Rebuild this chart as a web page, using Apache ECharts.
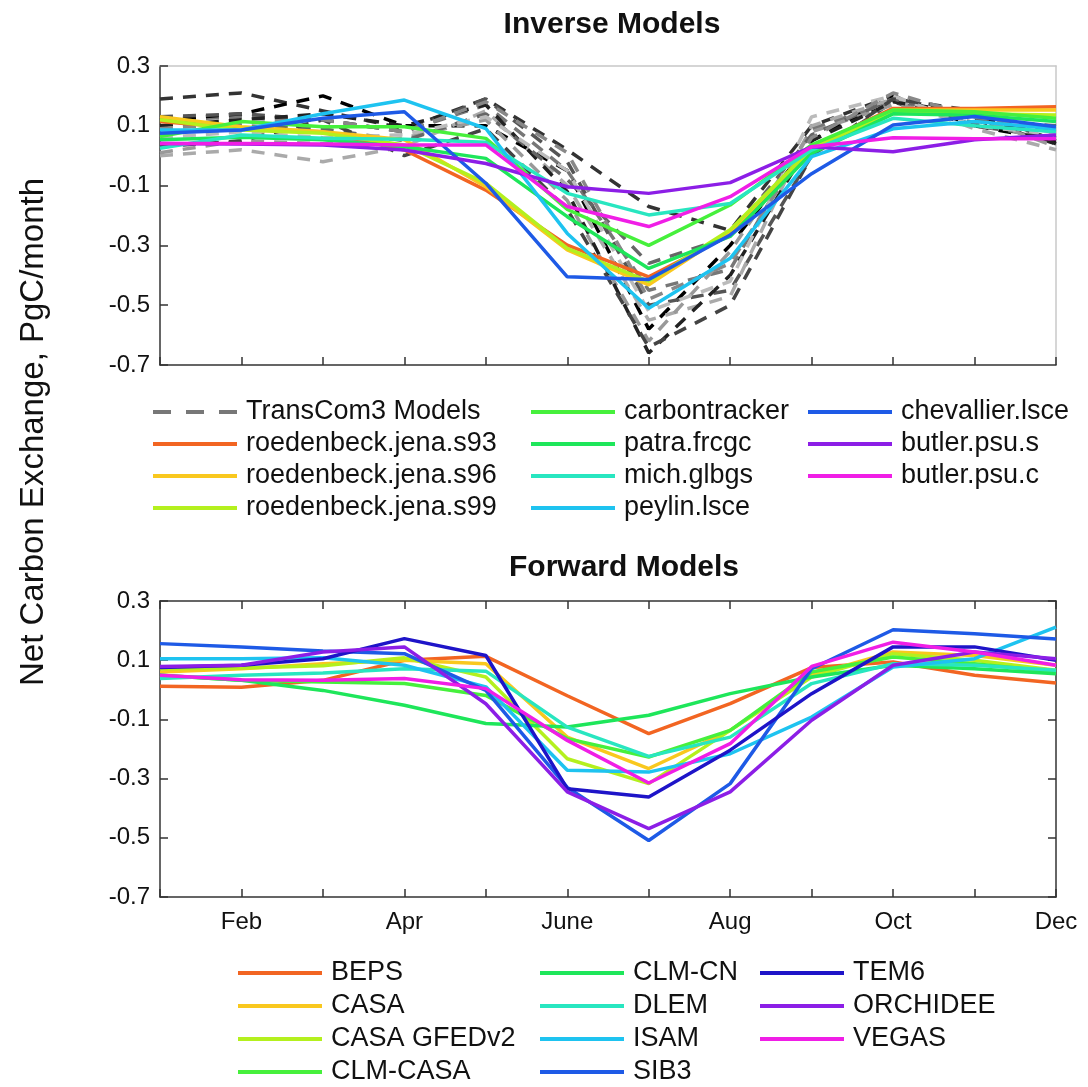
<!DOCTYPE html>
<html>
<head>
<meta charset="utf-8">
<script src="https://cdn.jsdelivr.net/npm/echarts@6/dist/echarts.min.js"></script>
<style>
  html, body { margin: 0; padding: 0; background: #fff; }
  #chart { width: 1088px; height: 1087px; }
</style>
</head>
<body>
<div id="chart"></div>
<script>
// months along x, only every other one is labelled
const months = ["Jan", "Feb", "Mar", "Apr", "May", "June", "July", "Aug", "Sep", "Oct", "Nov", "Dec"];
const yTicks = [-0.7, -0.5, -0.3, -0.1, 0.1, 0.3];

// Inverse models, TransCom3 ensemble (dashed, grey shades)
const transcom3 = [
  [0.12, 0.13, 0.12, 0.08, 0.17, -0.05, -0.45, -0.38, 0.09, 0.18, 0.11, 0.08],
  [0.19, 0.21, 0.15, 0.09, 0.19, 0.02, -0.17, -0.25, 0.10, 0.20, 0.12, 0.04],
  [0.12, 0.14, 0.20, 0.10, 0.10, -0.05, -0.58, -0.30, 0.05, 0.20, 0.10, 0.05],
  [0.13, 0.14, 0.12, 0.08, 0.19, -0.02, -0.50, -0.45, 0.00, 0.18, 0.10, 0.06],
  [0.00, 0.02, -0.02, 0.03, 0.15, -0.10, -0.55, -0.47, 0.10, 0.19, 0.09, 0.02],
  [0.01, 0.05, 0.04, 0.06, 0.12, -0.15, -0.62, -0.32, 0.08, 0.17, 0.13, 0.03],
  [0.10, 0.12, 0.14, 0.10, 0.17, -0.12, -0.66, -0.40, 0.05, 0.18, 0.14, 0.04],
  [0.12, 0.10, 0.09, 0.05, 0.14, -0.08, -0.36, -0.27, 0.07, 0.19, 0.12, 0.10],
  [0.06, 0.08, 0.06, 0.07, 0.13, -0.05, -0.52, -0.42, 0.13, 0.20, 0.10, 0.07],
  [0.03, 0.05, 0.12, 0.00, 0.09, -0.18, -0.64, -0.50, 0.00, 0.19, 0.15, 0.05],
  [0.09, 0.11, 0.12, 0.08, 0.18, 0.01, -0.48, -0.36, 0.06, 0.21, 0.13, 0.09],
];
const transcomColors = ["#777777", "#333333", "#000000", "#555555", "#aaaaaa", "#999999",
  "#222222", "#666666", "#bbbbbb", "#444444", "#888888"];

// Inverse models, single runs
const roedenbeckS93 = [0.114, 0.092, 0.08, 0.019, -0.115, -0.299, -0.405, -0.265, 0.03, 0.158, 0.158, 0.164];
const roedenbeckS96 = [0.13, 0.097, 0.08, 0.053, -0.104, -0.315, -0.432, -0.254, 0.019, 0.153, 0.153, 0.153];
const roedenbeckS99 = [0.12, 0.086, 0.075, 0.036, -0.092, -0.31, -0.42, -0.248, 0.025, 0.147, 0.14, 0.136];
const carbontracker = [0.064, 0.114, 0.097, 0.097, 0.058, -0.18, -0.30, -0.165, 0.036, 0.153, 0.147, 0.125];
const patraFrcgc = [0.053, 0.062, 0.053, 0.03, -0.009, -0.204, -0.377, -0.27, 0.008, 0.14, 0.135, 0.114];
const michGlbgs = [0.025, 0.069, 0.058, 0.055, 0.045, -0.126, -0.198, -0.16, 0.019, 0.125, 0.10, 0.08];
const peylinLsce = [0.086, 0.086, 0.14, 0.186, 0.091, -0.26, -0.51, -0.343, -0.003, 0.09, 0.114, 0.09];
const chevallierLsce = [0.075, 0.086, 0.125, 0.147, -0.092, -0.405, -0.414, -0.265, -0.06, 0.103, 0.131, 0.097];
const butlerPsuS = [0.041, 0.039, 0.036, 0.019, -0.026, -0.104, -0.126, -0.09, 0.03, 0.013, 0.053, 0.069];
const butlerPsuC = [0.041, 0.041, 0.039, 0.036, 0.036, -0.17, -0.237, -0.137, 0.03, 0.06, 0.057, 0.057];

// Forward models
const beps = [0.012, 0.009, 0.032, 0.10, 0.113, -0.02, -0.148, -0.047, 0.075, 0.094, 0.049, 0.023];
const casa = [0.06, 0.071, 0.088, 0.10, 0.088, -0.16, -0.266, -0.137, 0.049, 0.128, 0.116, 0.083];
const casaGfed = [0.071, 0.074, 0.081, 0.108, 0.043, -0.233, -0.317, -0.137, 0.043, 0.122, 0.10, 0.066];
const clmCasa = [0.049, 0.032, 0.026, 0.021, -0.019, -0.165, -0.227, -0.137, 0.06, 0.111, 0.088, 0.06];
const clmCn = [0.049, 0.032, -0.002, -0.052, -0.114, -0.126, -0.086, -0.013, 0.043, 0.083, 0.071, 0.054];
const dlem = [0.038, 0.049, 0.057, 0.071, 0.063, -0.126, -0.225, -0.16, 0.021, 0.088, 0.083, 0.066];
const isam = [0.105, 0.105, 0.108, 0.083, 0.01, -0.272, -0.278, -0.216, -0.092, 0.077, 0.105, 0.212];
const sib3 = [0.156, 0.145, 0.131, 0.122, -0.002, -0.33, -0.509, -0.317, 0.071, 0.203, 0.189, 0.172];
const tem6 = [0.075, 0.083, 0.105, 0.173, 0.116, -0.334, -0.362, -0.204, -0.013, 0.145, 0.145, 0.10];
const orchidee = [0.079, 0.083, 0.128, 0.145, -0.047, -0.345, -0.469, -0.345, -0.103, 0.083, 0.128, 0.105];
const vegas = [0.049, 0.034, 0.032, 0.038, 0.004, -0.171, -0.315, -0.182, 0.079, 0.161, 0.128, 0.083];

const inverseRuns = [
  ["roedenbeck.jena.s93", roedenbeckS93, "#f26522"],
  ["roedenbeck.jena.s96", roedenbeckS96, "#f9c81e"],
  ["roedenbeck.jena.s99", roedenbeckS99, "#b4f01e"],
  ["carbontracker", carbontracker, "#46f03c"],
  ["patra.frcgc", patraFrcgc, "#1ee65a"],
  ["mich.glbgs", michGlbgs, "#28e6c0"],
  ["peylin.lsce", peylinLsce, "#1ec3f0"],
  ["chevallier.lsce", chevallierLsce, "#1e5ae6"],
  ["butler.psu.s", butlerPsuS, "#8c1ee6"],
  ["butler.psu.c", butlerPsuC, "#f01ee6"],
];
const forwardRuns = [
  ["BEPS", beps, "#f26522"],
  ["CASA", casa, "#f9c81e"],
  ["CASA GFEDv2", casaGfed, "#b4f01e"],
  ["CLM-CASA", clmCasa, "#46f03c"],
  ["CLM-CN", clmCn, "#1ee65a"],
  ["DLEM", dlem, "#28e6c0"],
  ["ISAM", isam, "#1ec3f0"],
  ["SIB3", sib3, "#1e5ae6"],
  ["TEM6", tem6, "#1e14c8"],
  ["ORCHIDEE", orchidee, "#8c1ee6"],
  ["VEGAS", vegas, "#f01ee6"],
];

const FONT = "Liberation Sans, Arial, sans-serif";
const AXIS_DARK = "#333";
// three grey dashes for the ensemble entry
const DASH_ICON = "path://M0,0h18v4h-18z M33,0h18v4h-18z M66,0h18v4h-18z";

function xAxes(grid, withLabels, topColor, topTicks) {
  return [
    {
      gridIndex: grid, type: "category", data: months, boundaryGap: false, position: "bottom",
      axisLine: { onZero: false, lineStyle: { color: AXIS_DARK, width: 1.5 } },
      axisTick: { inside: true, length: 8, interval: 0, lineStyle: { color: AXIS_DARK, width: 1.5 } },
      axisLabel: {
        show: withLabels, interval: (i) => i % 2 === 1, margin: 13,
        fontFamily: FONT, fontSize: 24, color: "#111",
      },
      splitLine: { show: false },
    },
    {
      gridIndex: grid, type: "category", data: months, boundaryGap: false, position: "top",
      axisLine: { onZero: false, lineStyle: { color: topColor, width: 1.5 } },
      axisTick: { show: topTicks, inside: true, length: 8, interval: 0, lineStyle: { color: AXIS_DARK, width: 1.5 } },
      axisLabel: { show: false },
      splitLine: { show: false },
    },
  ];
}

function yAxes(grid, rightColor, rightTicks) {
  const base = { gridIndex: grid, type: "value", min: -0.7, max: 0.3, splitLine: { show: false } };
  return [
    Object.assign({}, base, {
      position: "left",
      axisLine: { show: true, onZero: false, lineStyle: { color: AXIS_DARK, width: 1.5 } },
      axisTick: { show: true, inside: true, length: 8, customValues: yTicks, lineStyle: { color: AXIS_DARK, width: 1.5 } },
      axisLabel: {
        customValues: yTicks, formatter: (v) => v.toFixed(1), margin: 10,
        fontFamily: FONT, fontSize: 24, color: "#111",
      },
    }),
    Object.assign({}, base, {
      position: "right",
      axisLine: { show: true, onZero: false, lineStyle: { color: rightColor, width: 1.5 } },
      axisTick: { show: rightTicks, inside: true, length: 8, customValues: yTicks, lineStyle: { color: AXIS_DARK, width: 1.5 } },
      axisLabel: { show: false },
    }),
  ];
}

const series = [];
transcom3.forEach((vals, i) => {
  series.push({
    name: "TransCom3 Models", type: "line", xAxisIndex: 0, yAxisIndex: 0,
    data: vals, symbol: "none", silent: true,
    lineStyle: { color: transcomColors[i], width: 3.5, type: [13, 10] },
    itemStyle: { color: transcomColors[i] },
  });
});
inverseRuns.forEach(([name, vals, color]) => {
  series.push({
    name, type: "line", xAxisIndex: 0, yAxisIndex: 0, data: vals, symbol: "none",
    lineStyle: { color, width: 3.5 }, itemStyle: { color },
  });
});
forwardRuns.forEach(([name, vals, color]) => {
  series.push({
    name, type: "line", xAxisIndex: 2, yAxisIndex: 2, data: vals, symbol: "none",
    lineStyle: { color, width: 3.5 }, itemStyle: { color },
  });
});

function legendCol(names, left, top, gap) {
  return {
    data: names.map((n) => (n === "TransCom3 Models" ? { name: n, icon: DASH_ICON } : n)),
    orient: "vertical", left, top, itemWidth: 84, itemHeight: 4, icon: "rect",
    itemGap: gap, selectedMode: false, padding: 0,
    textStyle: { fontFamily: FONT, fontSize: 27, color: "#111", lineHeight: 28, padding: [0, 0, 0, 4] },
  };
}

const option = {
  animation: false,
  backgroundColor: "#fff",
  grid: [
    { left: 160, top: 66, width: 896, height: 299 },
    { left: 160, top: 601, width: 896, height: 296 },
  ],
  xAxis: [...xAxes(0, false, "#c8c8c8", false), ...xAxes(1, true, AXIS_DARK, true)],
  yAxis: [...yAxes(0, "#c8c8c8", false), ...yAxes(1, AXIS_DARK, true)],
  legend: [
    legendCol(["TransCom3 Models", "roedenbeck.jena.s93", "roedenbeck.jena.s96", "roedenbeck.jena.s99"], 153, 398, 4),
    legendCol(["carbontracker", "patra.frcgc", "mich.glbgs", "peylin.lsce"], 531, 398, 4),
    legendCol(["chevallier.lsce", "butler.psu.s", "butler.psu.c"], 808, 398, 4),
    legendCol(["BEPS", "CASA", "CASA GFEDv2", "CLM-CASA"], 238, 959, 5),
    legendCol(["CLM-CN", "DLEM", "ISAM", "SIB3"], 540, 959, 5),
    legendCol(["TEM6", "ORCHIDEE", "VEGAS"], 760, 959, 5),
  ],
  graphic: [
    {
      type: "text", x: 612, y: 25,
      style: { text: "Inverse Models", font: "bold 30px " + FONT, fill: "#111", textAlign: "center", textVerticalAlign: "middle" },
    },
    {
      type: "text", x: 624, y: 568,
      style: { text: "Forward Models", font: "bold 30px " + FONT, fill: "#111", textAlign: "center", textVerticalAlign: "middle" },
    },
    {
      type: "text", x: 34, y: 432, rotation: Math.PI / 2,
      style: { text: "Net Carbon Exchange, PgC/month", font: "33px " + FONT, fill: "#111", textAlign: "center", textVerticalAlign: "middle" },
    },
  ],
  series,
};

const myChart = echarts.init(document.getElementById("chart"));
myChart.setOption(option);
</script>
</body>
</html>
